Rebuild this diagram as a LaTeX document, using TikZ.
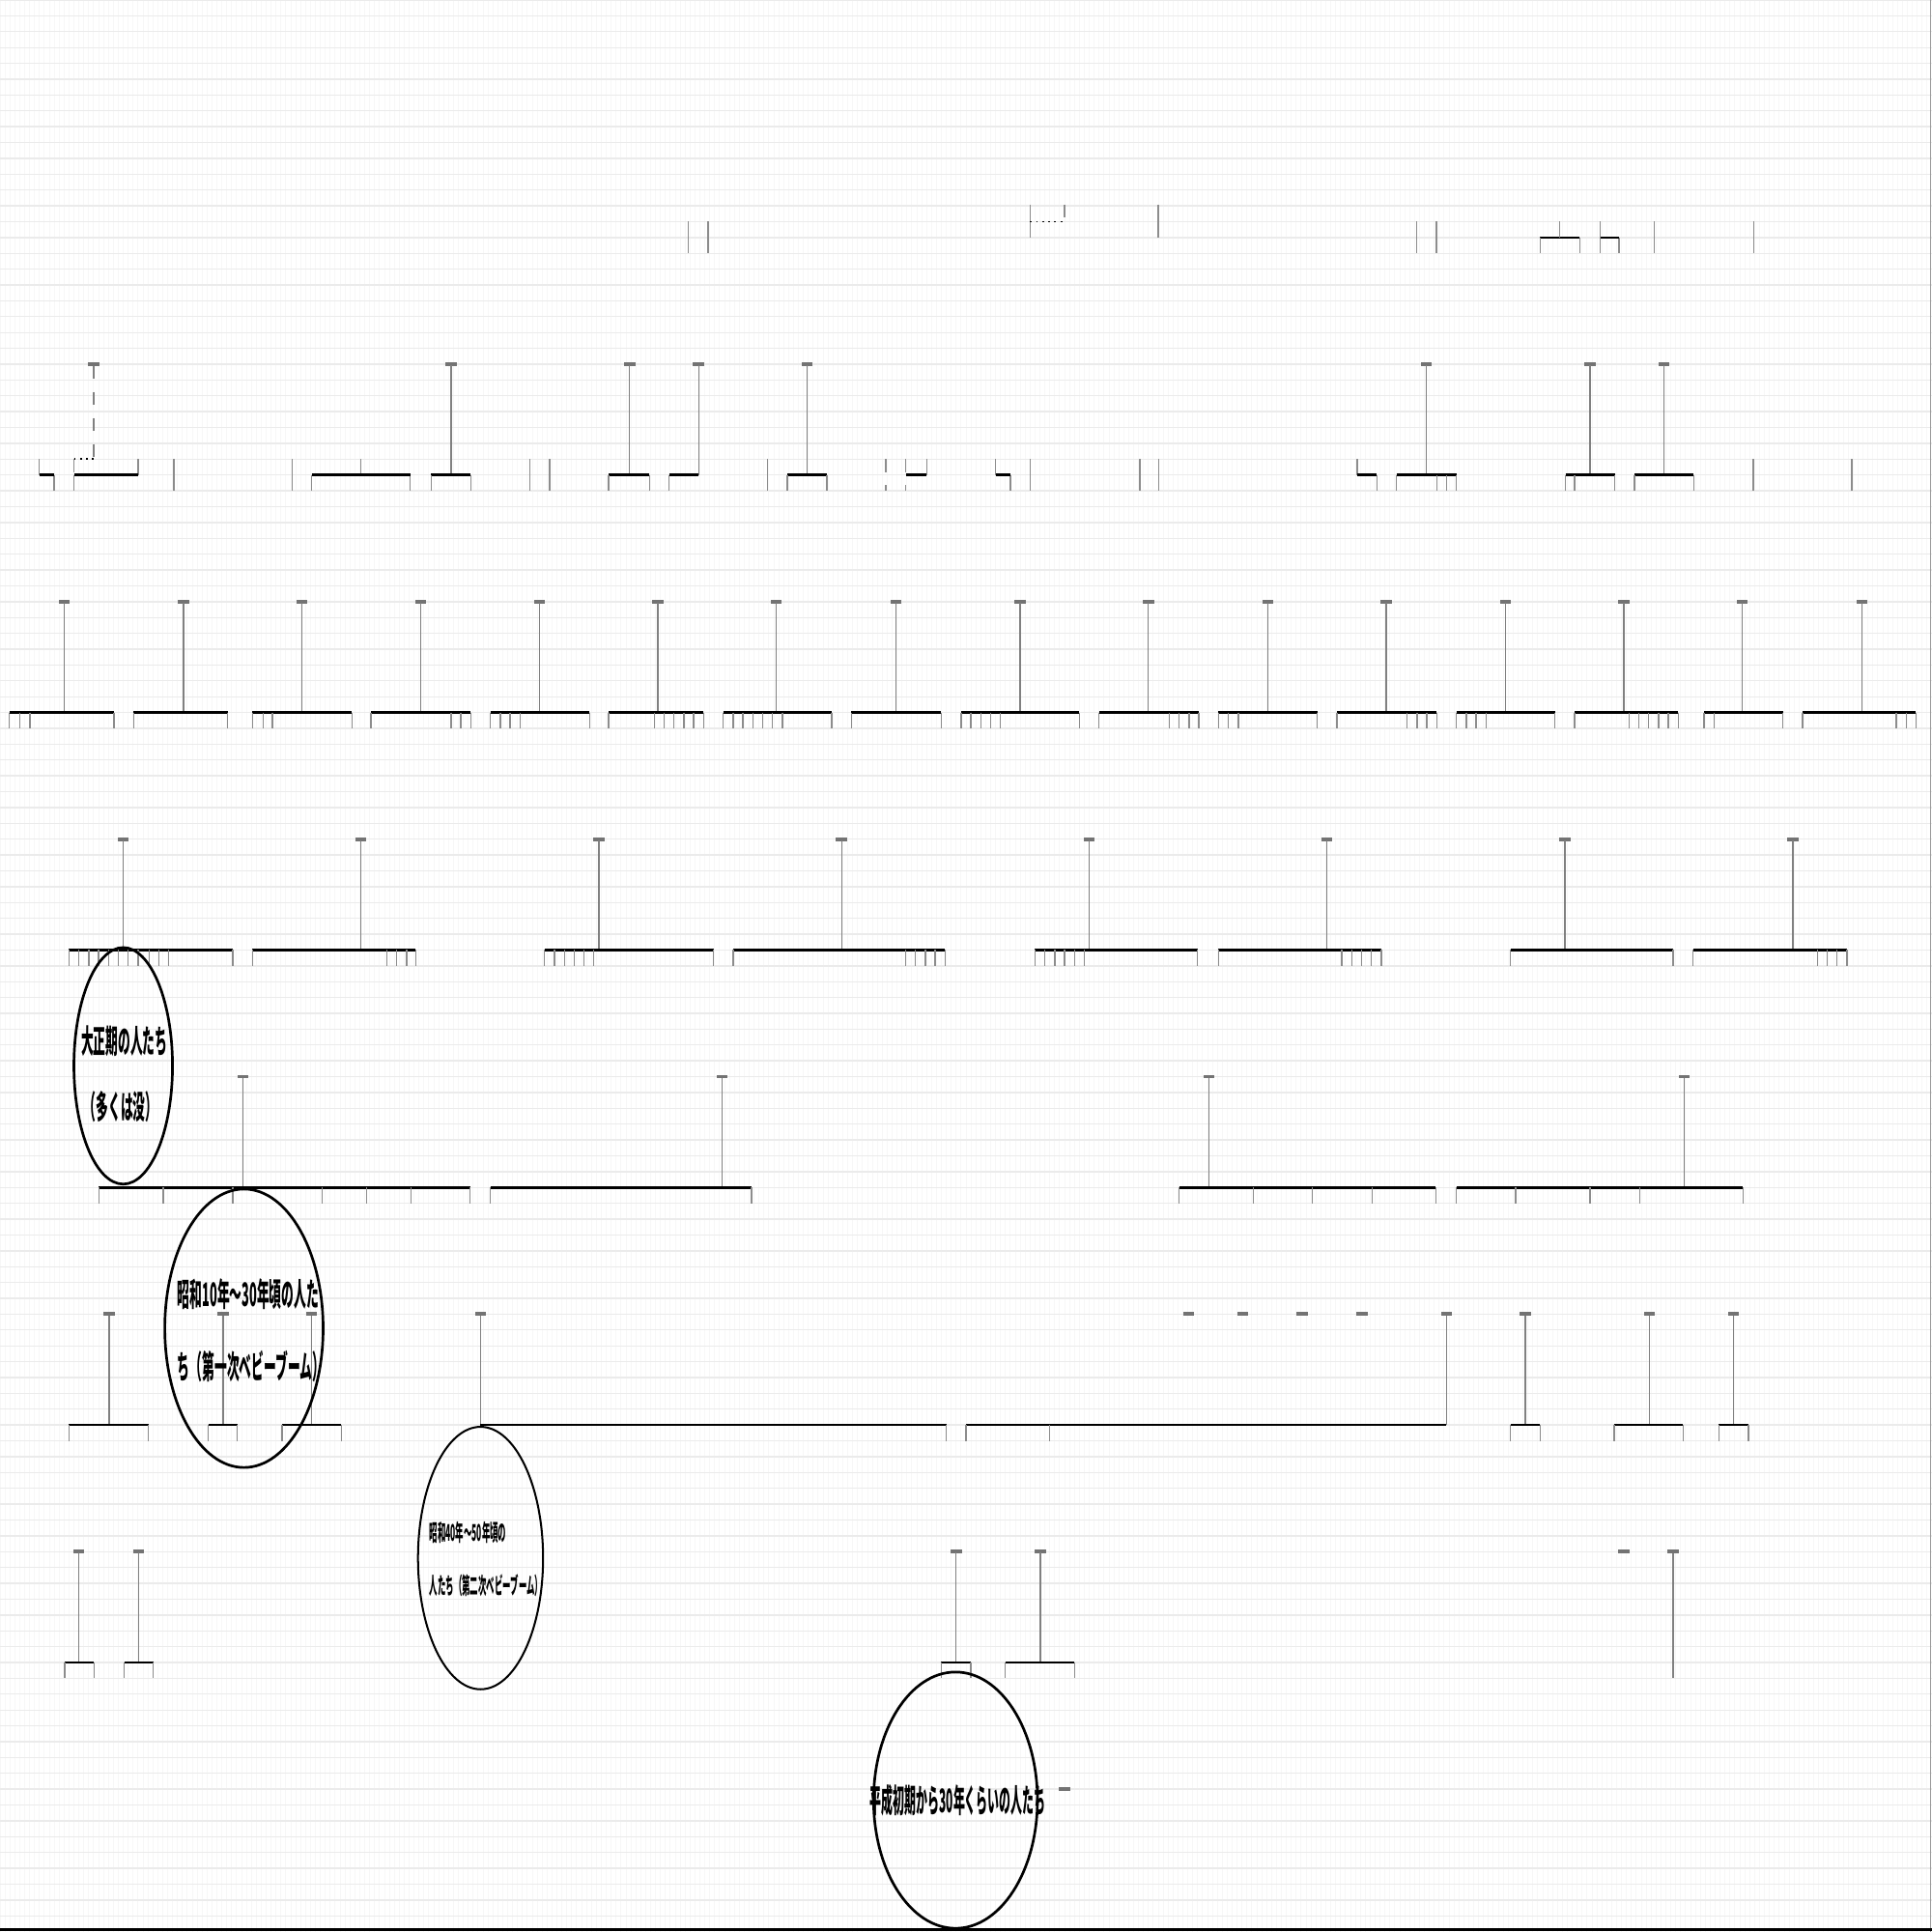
\documentclass[tikz,border=0pt]{standalone}
\usepackage{fontspec}
\usepackage{graphicx}
\newfontfamily\jpfont{Noto Sans CJK JP}
\usetikzlibrary{shapes.geometric}

\tikzset{
  bar/.style={black, line width=0.55pt},
  stem/.style={black!50, line width=0.3pt},
  drop/.style={black!45, line width=0.3pt},
  capfill/.style={fill=black!55},
  era/.style={draw, ellipse, line width=0.6pt, inner sep=0pt},
  label jp/.style={font=\jpfont\bfseries\fontsize{7.5}{7.5}\selectfont, inner sep=0pt},
  small jp/.style={font=\jpfont\bfseries\fontsize{5.3}{5.3}\selectfont, inner sep=0pt},
  gridline/.style={black!8, line width=0.3pt}
}
\newcommand{\narrow}[1]{\scalebox{0.38}[1]{#1}}
\newcommand{\slimtext}[1]{\scalebox{0.355}[1]{#1}}
% bar y, stem x, left, right, drops
\newcommand{\household}[5]{%
  \fill[capfill] (#2-4.5,#1-91.5) rectangle (#2+4.5,#1-88.5);
  \draw[stem] (#2,#1-89) -- (#2,#1);
  \draw[bar] (#3,#1) -- (#4,#1);
  \foreach \d in {#5} {\draw[drop] (\d,#1) -- (\d,#1+12.85);}
}
\newcommand{\capmark}[2]{\fill[capfill] (#1-4.5,#2-1.5) rectangle (#1+4.5,#2+1.5);}

\begin{document}
\begin{tikzpicture}[x=0.1mm,y=-0.1mm]
\useasboundingbox (0,0) rectangle (1568,1568);
% background sheet
\foreach \k in {0,4,...,1568} {\draw[black!3, line width=0.2pt] (\k,0) -- (\k,1568);}
\foreach \k in {0,...,121} {\draw[gridline] (0,\k*12.85) -- (1568,\k*12.85);}
\draw[black!40, line width=0.3pt] (1567,0) -- (1567,1568);
\draw[black, line width=0.6pt] (0,1566) -- (1568,1566);

% top row
\foreach \x in {558.6,574.7,1149.7,1165.8,1342.6,1423.4} {\draw[drop] (\x,179.9) -- (\x,205.6);}
\draw[drop] (836,166) -- (836,192.75);
\draw[black, densely dotted, line width=0.4pt] (836,179.9) -- (864,179.9);
\draw[drop, dashed] (864,166) -- (864,179.9);
\draw[drop] (940,166) -- (940,192.75);
\draw[bar] (1250,192.75) -- (1282,192.75);
\draw[drop] (1266,179.9) -- (1266,192.75);
\foreach \x in {1250,1282,1314} {\draw[drop] (\x,192.75) -- (\x,205.6);}
\draw[bar] (1298.5,192.75) -- (1314,192.75);
\draw[drop] (1298.5,179.9) -- (1298.5,205.6);

% second row
\foreach \x in {141,237,430,446,623,836,925,940.5,1423,1503} {\draw[drop] (\x,372.65) -- (\x,398.35);}
\foreach \x in {719,735} {\draw[drop, dashed] (\x,372.65) -- (\x,398.35);}
\foreach \x in {32,112,293,752,808,1101.5} {\draw[drop] (\x,372.65) -- (\x,385.5);}
\foreach \x in {44,60,253,333,820,1117.5} {\draw[drop] (\x,385.5) -- (\x,398.35);}
\foreach \a/\b in {32/44,60/112,253/333,735/752,808/820,1101.5/1117.5} {\draw[bar] (\a,385.5) -- (\b,385.5);}
\capmark{76}{295.5}
\draw[stem, dashed] (76,297) -- (76,372.65);
\draw[black, densely dotted, line width=0.4pt] (60,372.65) -- (76,372.65);
\draw[drop, dashed] (60,372.65) -- (60,385.5);
\household{385.5}{366}{350}{382}{350,382}
\household{385.5}{511}{494}{527}{494,527}
\household{385.5}{567}{543}{567}{543}
\household{385.5}{655}{639}{671}{639,671}
\household{385.5}{1157.5}{1133.5}{1182}{1133.5,1166,1174,1182}
\household{385.5}{1290.5}{1270.5}{1310.5}{1270.5,1278,1310.5}
\household{385.5}{1350.5}{1326.5}{1374.5}{1326.5,1374.5}

% third row
\household{578.25}{52}{7.7}{92.4}{7.7,16.1,24.2,92.4}
\household{578.25}{149}{108.5}{184.8}{108.5,184.8}
\household{578.25}{245}{205}{285.6}{205,213.5,221,285.6}
\household{578.25}{341.6}{301}{382}{301,366,374,382}
\household{578.25}{438}{398}{478.5}{398,406,414,422,478.5}
\household{578.25}{534}{494}{571}{494,531,539,547,555,563,571}
\household{578.25}{630}{587}{675}{587,595,603,611,619,627,635,675}
\household{578.25}{727}{691}{764}{691,764}
\household{578.25}{828}{780}{876}{780,788,796,804,812,876}
\household{578.25}{932}{892}{973}{892,949,957,965,973}
\household{578.25}{1029}{989}{1069}{989,997,1005,1069}
\household{578.25}{1125}{1085}{1166}{1085,1142,1150,1158,1166}
\household{578.25}{1222}{1182}{1262}{1182,1190,1198,1206,1262}
\household{578.25}{1318}{1278}{1362}{1278,1322,1330,1338,1346,1354,1362}
\household{578.25}{1414}{1383}{1447}{1383,1391,1447}
\household{578.25}{1511}{1463}{1555}{1463,1539,1547,1555}

% fourth row
\household{771}{100}{56}{189}{56,64,72,80,88,96,104,112,121,129,137,189}
\household{771}{293}{205}{337.5}{205,314,322,330,337.5}
\household{771}{486}{442}{579}{442,450,458,466,474,482,579}
\household{771}{683}{595}{767}{595,735,743,751,759,767}
\household{771}{884}{840}{972}{840,848,856,864,872,880,972}
\household{771}{1077}{989}{1121}{989,1089,1097,1105,1113,1121}
\household{771}{1270}{1226}{1358}{1226,1358}
\household{771}{1455}{1374}{1499}{1374,1475,1483,1491,1499}

% fifth row
\household{963.75}{197}{80}{381.5}{80.5,132.6,189,261.5,297.5,333.6,381.5}
\household{963.75}{586}{398}{610}{398,610}
\household{963.75}{981}{957}{1165.4}{957,1017,1065,1113.6,1165.4}
\household{963.75}{1366.7}{1182}{1414.5}{1182,1230,1290.5,1330.6,1414.5}

% sixth row
\household{1156.5}{88.6}{56}{120.4}{56,120.4}
\household{1156.5}{181}{169}{192.5}{169,192.5}
\household{1156.5}{253}{229}{277}{229,277}
\household{1156.5}{390}{390}{768}{768}
\household{1156.5}{1174}{784}{1174}{784,852}
\household{1156.5}{1238}{1226}{1250}{1226,1250}
\household{1156.5}{1338.7}{1310}{1366}{1310,1366}
\household{1156.5}{1407}{1395}{1419}{1395,1419}
\foreach \x in {964.7,1008.7,1057,1105.5} {\capmark{\x}{1066.5}}

% seventh row
\household{1349.25}{64}{52.5}{76.3}{52.5,76.3}
\household{1349.25}{112.4}{100.8}{124.3}{100.8,124.3}
\household{1349.25}{776}{764}{788}{764,788}
\household{1349.25}{844.4}{816}{872}{816,872}
\capmark{1318}{1259.3}
\capmark{1358}{1259.3}
\draw[stem] (1358,1260.5) -- (1358,1362);
\capmark{864}{1452}

% generations
\node[era, minimum width=8mm, minimum height=19.2mm] (taisho) at (100,865) {};
\node[label jp] (taishoA) at (101,845) {\narrow{大正期の人たち}};
\node[label jp] (taishoB) at (98,898) {\narrow{（多くは没）}};
\node[era, minimum width=12.85mm, minimum height=22.6mm] (showaA) at (198,1078) {};
\node[label jp, anchor=west] (showaAa) at (143.5,1050) {\narrow{昭和10年～30年頃の人た}};
\node[label jp, anchor=west] (showaAb) at (143.5,1108.6) {\narrow{ち（第一次ベビーブーム）}};
\node[era, line width=0.45pt, minimum width=10.15mm, minimum height=21.3mm] (showaB) at (390,1264.5) {};
\node[small jp, anchor=west] (showaBa) at (348,1243.5) {\slimtext{昭和40年～50年頃の}};
\node[small jp, anchor=west] (showaBb) at (348,1287) {\slimtext{人たち（第二次ベビーブーム）}};
\node[era, minimum width=13.3mm, minimum height=20.8mm] (heisei) at (775.5,1461) {};
\node[label jp] (heiseiA) at (777.5,1461) {\slimtext{平成初期から30年くらいの人たち}};
\end{tikzpicture}
\end{document}
